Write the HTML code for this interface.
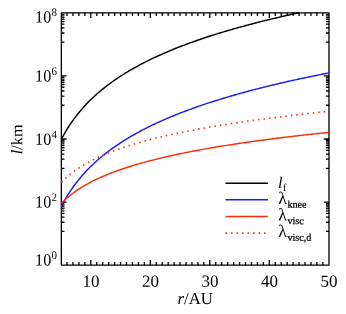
<!DOCTYPE html>
<html><head><meta charset="utf-8"><title>plot</title>
<style>
html,body{margin:0;padding:0;background:#fff;}
body{width:346px;height:314px;overflow:hidden;}
svg{display:block;will-change:transform;text-rendering:geometricPrecision;font-family:"Liberation Serif",serif;}
</style></head><body>
<svg width="346" height="314" viewBox="0 0 346 314">
<rect x="0" y="0" width="346" height="314" fill="#fff"/>
<g fill="none" stroke-linecap="butt" stroke-linejoin="round">
<rect x="61.35" y="12.85" width="267.65" height="252.35" stroke="#000" stroke-width="1.32"/>
<path d="M67.01,265.20 v-3.10 M67.01,12.85 v3.10 M72.96,265.20 v-3.10 M72.96,12.85 v3.10 M78.91,265.20 v-3.10 M78.91,12.85 v3.10 M84.86,265.20 v-3.10 M84.86,12.85 v3.10 M90.81,265.20 v-5.20 M90.81,12.85 v5.20 M96.76,265.20 v-3.10 M96.76,12.85 v3.10 M102.71,265.20 v-3.10 M102.71,12.85 v3.10 M108.66,265.20 v-3.10 M108.66,12.85 v3.10 M114.61,265.20 v-3.10 M114.61,12.85 v3.10 M120.56,265.20 v-3.10 M120.56,12.85 v3.10 M126.51,265.20 v-3.10 M126.51,12.85 v3.10 M132.46,265.20 v-3.10 M132.46,12.85 v3.10 M138.41,265.20 v-3.10 M138.41,12.85 v3.10 M144.36,265.20 v-3.10 M144.36,12.85 v3.10 M150.31,265.20 v-5.20 M150.31,12.85 v5.20 M156.26,265.20 v-3.10 M156.26,12.85 v3.10 M162.21,265.20 v-3.10 M162.21,12.85 v3.10 M168.16,265.20 v-3.10 M168.16,12.85 v3.10 M174.11,265.20 v-3.10 M174.11,12.85 v3.10 M180.06,265.20 v-3.10 M180.06,12.85 v3.10 M186.01,265.20 v-3.10 M186.01,12.85 v3.10 M191.96,265.20 v-3.10 M191.96,12.85 v3.10 M197.91,265.20 v-3.10 M197.91,12.85 v3.10 M203.86,265.20 v-3.10 M203.86,12.85 v3.10 M209.81,265.20 v-5.20 M209.81,12.85 v5.20 M215.76,265.20 v-3.10 M215.76,12.85 v3.10 M221.71,265.20 v-3.10 M221.71,12.85 v3.10 M227.66,265.20 v-3.10 M227.66,12.85 v3.10 M233.61,265.20 v-3.10 M233.61,12.85 v3.10 M239.56,265.20 v-3.10 M239.56,12.85 v3.10 M245.51,265.20 v-3.10 M245.51,12.85 v3.10 M251.46,265.20 v-3.10 M251.46,12.85 v3.10 M257.41,265.20 v-3.10 M257.41,12.85 v3.10 M263.36,265.20 v-3.10 M263.36,12.85 v3.10 M269.31,265.20 v-5.20 M269.31,12.85 v5.20 M275.26,265.20 v-3.10 M275.26,12.85 v3.10 M281.21,265.20 v-3.10 M281.21,12.85 v3.10 M287.16,265.20 v-3.10 M287.16,12.85 v3.10 M293.11,265.20 v-3.10 M293.11,12.85 v3.10 M299.06,265.20 v-3.10 M299.06,12.85 v3.10 M305.01,265.20 v-3.10 M305.01,12.85 v3.10 M310.96,265.20 v-3.10 M310.96,12.85 v3.10 M316.91,265.20 v-3.10 M316.91,12.85 v3.10 M322.86,265.20 v-3.10 M322.86,12.85 v3.10 M61.35,202.11 h5.2 M329.00,202.11 h-5.2 M61.35,203.61 h3.1 M329.00,203.61 h-3.1 M61.35,205.21 h3.1 M329.00,205.21 h-3.1 M61.35,206.91 h3.1 M329.00,206.91 h-3.1 M61.35,208.71 h3.1 M329.00,208.71 h-3.1 M61.35,210.86 h3.1 M329.00,210.86 h-3.1 M61.35,213.41 h3.1 M329.00,213.41 h-3.1 M61.35,217.16 h3.1 M329.00,217.16 h-3.1 M61.35,222.26 h3.1 M329.00,222.26 h-3.1 M61.35,231.41 h3.1 M329.00,231.41 h-3.1 M61.35,139.02 h5.2 M329.00,139.02 h-5.2 M61.35,140.52 h3.1 M329.00,140.52 h-3.1 M61.35,142.12 h3.1 M329.00,142.12 h-3.1 M61.35,143.82 h3.1 M329.00,143.82 h-3.1 M61.35,145.62 h3.1 M329.00,145.62 h-3.1 M61.35,147.77 h3.1 M329.00,147.77 h-3.1 M61.35,150.32 h3.1 M329.00,150.32 h-3.1 M61.35,154.07 h3.1 M329.00,154.07 h-3.1 M61.35,159.17 h3.1 M329.00,159.17 h-3.1 M61.35,168.32 h3.1 M329.00,168.32 h-3.1 M61.35,75.94 h5.2 M329.00,75.94 h-5.2 M61.35,77.44 h3.1 M329.00,77.44 h-3.1 M61.35,79.04 h3.1 M329.00,79.04 h-3.1 M61.35,80.74 h3.1 M329.00,80.74 h-3.1 M61.35,82.54 h3.1 M329.00,82.54 h-3.1 M61.35,84.69 h3.1 M329.00,84.69 h-3.1 M61.35,87.24 h3.1 M329.00,87.24 h-3.1 M61.35,90.99 h3.1 M329.00,90.99 h-3.1 M61.35,96.09 h3.1 M329.00,96.09 h-3.1 M61.35,105.24 h3.1 M329.00,105.24 h-3.1 M61.35,14.35 h3.1 M329.00,14.35 h-3.1 M61.35,15.95 h3.1 M329.00,15.95 h-3.1 M61.35,17.65 h3.1 M329.00,17.65 h-3.1 M61.35,19.45 h3.1 M329.00,19.45 h-3.1 M61.35,21.60 h3.1 M329.00,21.60 h-3.1 M61.35,24.15 h3.1 M329.00,24.15 h-3.1 M61.35,27.90 h3.1 M329.00,27.90 h-3.1 M61.35,33.00 h3.1 M329.00,33.00 h-3.1 M61.35,42.15 h3.1 M329.00,42.15 h-3.1" stroke="#000" stroke-width="1.3"/>
<path d="M61.40,139.25 L62.89,136.44 L64.38,133.76 L65.86,131.20 L67.35,128.75 L68.84,126.39 L70.33,124.14 L71.81,121.96 L73.30,119.87 L74.79,117.84 L76.28,115.89 L77.77,114.00 L79.25,112.17 L80.74,110.40 L82.23,108.68 L83.72,107.01 L85.20,105.39 L86.69,103.81 L88.18,102.27 L89.67,100.78 L91.16,99.32 L92.64,97.90 L94.13,96.51 L95.62,95.15 L97.11,93.83 L98.59,92.54 L100.08,91.27 L101.57,90.03 L103.06,88.82 L104.54,87.63 L106.03,86.47 L107.52,85.32 L109.01,84.21 L110.50,83.11 L111.98,82.03 L113.47,80.98 L114.96,79.94 L116.45,78.92 L117.93,77.92 L119.42,76.93 L120.91,75.96 L122.40,75.01 L123.89,74.07 L125.37,73.15 L126.86,72.25 L128.35,71.35 L129.84,70.47 L131.32,69.61 L132.81,68.75 L134.30,67.91 L135.79,67.08 L137.28,66.27 L138.76,65.46 L140.25,64.67 L141.74,63.88 L143.23,63.11 L144.71,62.35 L146.20,61.59 L147.69,60.85 L149.18,60.12 L150.66,59.39 L152.15,58.68 L153.64,57.97 L155.13,57.27 L156.62,56.58 L158.10,55.90 L159.59,55.23 L161.08,54.56 L162.57,53.90 L164.05,53.25 L165.54,52.61 L167.03,51.97 L168.52,51.34 L170.01,50.72 L171.49,50.10 L172.98,49.49 L174.47,48.89 L175.96,48.29 L177.44,47.70 L178.93,47.12 L180.42,46.54 L181.91,45.96 L183.40,45.40 L184.88,44.83 L186.37,44.28 L187.86,43.73 L189.35,43.18 L190.83,42.64 L192.32,42.10 L193.81,41.57 L195.30,41.05 L196.79,40.53 L198.27,40.01 L199.76,39.50 L201.25,38.99 L202.74,38.49 L204.22,37.99 L205.71,37.49 L207.20,37.00 L208.69,36.52 L210.17,36.03 L211.66,35.56 L213.15,35.08 L214.64,34.61 L216.13,34.15 L217.61,33.68 L219.10,33.22 L220.59,32.77 L222.08,32.32 L223.56,31.87 L225.05,31.42 L226.54,30.98 L228.03,30.54 L229.52,30.11 L231.00,29.68 L232.49,29.25 L233.98,28.82 L235.47,28.40 L236.95,27.98 L238.44,27.57 L239.93,27.15 L241.42,26.74 L242.91,26.34 L244.39,25.93 L245.88,25.53 L247.37,25.13 L248.86,24.74 L250.34,24.34 L251.83,23.95 L253.32,23.57 L254.81,23.18 L256.30,22.80 L257.78,22.42 L259.27,22.04 L260.76,21.66 L262.25,21.29 L263.73,20.92 L265.22,20.55 L266.71,20.19 L268.20,19.82 L269.69,19.46 L271.17,19.10 L272.66,18.75 L274.15,18.39 L275.64,18.04 L277.12,17.69 L278.61,17.34 L280.10,17.00 L281.59,16.65 L283.07,16.31 L284.56,15.97 L286.05,15.63 L287.54,15.30 L289.03,14.96 L290.51,14.63 L292.00,14.30 L293.49,13.97 L294.98,13.65 L296.46,13.32 L297.95,13.00 L299.09,12.75" stroke="#000" stroke-width="1.45"/>
<path d="M61.40,206.26 L62.89,203.43 L64.38,200.74 L65.86,198.16 L67.35,195.70 L68.84,193.33 L70.33,191.06 L71.81,188.87 L73.30,186.76 L74.79,184.73 L76.28,182.77 L77.77,180.87 L79.25,179.03 L80.74,177.24 L82.23,175.51 L83.72,173.83 L85.20,172.20 L86.69,170.61 L88.18,169.07 L89.67,167.56 L91.16,166.10 L92.64,164.67 L94.13,163.27 L95.62,161.91 L97.11,160.57 L98.59,159.27 L100.08,158.00 L101.57,156.75 L103.06,155.53 L104.54,154.34 L106.03,153.17 L107.52,152.02 L109.01,150.89 L110.50,149.79 L111.98,148.71 L113.47,147.64 L114.96,146.60 L116.45,145.57 L117.93,144.57 L119.42,143.57 L120.91,142.60 L122.40,141.64 L123.89,140.70 L125.37,139.77 L126.86,138.86 L128.35,137.96 L129.84,137.08 L131.32,136.21 L132.81,135.35 L134.30,134.50 L135.79,133.67 L137.28,132.85 L138.76,132.04 L140.25,131.24 L141.74,130.45 L143.23,129.67 L144.71,128.90 L146.20,128.15 L147.69,127.40 L149.18,126.66 L150.66,125.93 L152.15,125.21 L153.64,124.50 L155.13,123.80 L156.62,123.10 L158.10,122.42 L159.59,121.74 L161.08,121.07 L162.57,120.41 L164.05,119.75 L165.54,119.11 L167.03,118.46 L168.52,117.83 L170.01,117.20 L171.49,116.59 L172.98,115.97 L174.47,115.37 L175.96,114.76 L177.44,114.17 L178.93,113.58 L180.42,113.00 L181.91,112.42 L183.40,111.85 L184.88,111.29 L186.37,110.73 L187.86,110.17 L189.35,109.62 L190.83,109.08 L192.32,108.54 L193.81,108.01 L195.30,107.48 L196.79,106.95 L198.27,106.43 L199.76,105.92 L201.25,105.41 L202.74,104.90 L204.22,104.40 L205.71,103.90 L207.20,103.41 L208.69,102.92 L210.17,102.43 L211.66,101.95 L213.15,101.48 L214.64,101.00 L216.13,100.53 L217.61,100.07 L219.10,99.61 L220.59,99.15 L222.08,98.69 L223.56,98.24 L225.05,97.80 L226.54,97.35 L228.03,96.91 L229.52,96.47 L231.00,96.04 L232.49,95.61 L233.98,95.18 L235.47,94.76 L236.95,94.34 L238.44,93.92 L239.93,93.50 L241.42,93.09 L242.91,92.68 L244.39,92.27 L245.88,91.87 L247.37,91.47 L248.86,91.07 L250.34,90.67 L251.83,90.28 L253.32,89.89 L254.81,89.50 L256.30,89.12 L257.78,88.74 L259.27,88.36 L260.76,87.98 L262.25,87.60 L263.73,87.23 L265.22,86.86 L266.71,86.49 L268.20,86.13 L269.69,85.76 L271.17,85.40 L272.66,85.04 L274.15,84.69 L275.64,84.33 L277.12,83.98 L278.61,83.63 L280.10,83.28 L281.59,82.94 L283.07,82.59 L284.56,82.25 L286.05,81.91 L287.54,81.57 L289.03,81.24 L290.51,80.90 L292.00,80.57 L293.49,80.24 L294.98,79.91 L296.46,79.59 L297.95,79.26 L299.44,78.94 L300.93,78.62 L302.42,78.30 L303.90,77.98 L305.39,77.67 L306.88,77.35 L308.37,77.04 L309.85,76.73 L311.34,76.42 L312.83,76.11 L314.32,75.81 L315.81,75.50 L317.29,75.20 L318.78,74.90 L320.27,74.60 L321.76,74.30 L323.24,74.00 L324.73,73.71 L326.22,73.42 L327.71,73.12 L329.19,72.83" stroke="#1a1aff" stroke-width="1.45"/>
<path d="M61.40,203.36 L62.89,201.86 L64.38,200.42 L65.86,199.05 L67.35,197.74 L68.84,196.48 L70.33,195.27 L71.81,194.10 L73.30,192.98 L74.79,191.90 L76.28,190.85 L77.77,189.84 L79.25,188.86 L80.74,187.91 L82.23,186.99 L83.72,186.10 L85.20,185.23 L86.69,184.38 L88.18,183.56 L89.67,182.76 L91.16,181.98 L92.64,181.21 L94.13,180.47 L95.62,179.74 L97.11,179.04 L98.59,178.34 L100.08,177.66 L101.57,177.00 L103.06,176.35 L104.54,175.71 L106.03,175.09 L107.52,174.48 L109.01,173.88 L110.50,173.29 L111.98,172.72 L113.47,172.15 L114.96,171.59 L116.45,171.05 L117.93,170.51 L119.42,169.98 L120.91,169.47 L122.40,168.96 L123.89,168.45 L125.37,167.96 L126.86,167.47 L128.35,167.00 L129.84,166.52 L131.32,166.06 L132.81,165.60 L134.30,165.15 L135.79,164.71 L137.28,164.27 L138.76,163.84 L140.25,163.41 L141.74,162.99 L143.23,162.58 L144.71,162.17 L146.20,161.77 L147.69,161.37 L149.18,160.98 L150.66,160.59 L152.15,160.21 L153.64,159.83 L155.13,159.45 L156.62,159.08 L158.10,158.72 L159.59,158.36 L161.08,158.00 L162.57,157.65 L164.05,157.30 L165.54,156.96 L167.03,156.61 L168.52,156.28 L170.01,155.94 L171.49,155.61 L172.98,155.29 L174.47,154.96 L175.96,154.64 L177.44,154.33 L178.93,154.01 L180.42,153.70 L181.91,153.40 L183.40,153.09 L184.88,152.79 L186.37,152.49 L187.86,152.20 L189.35,151.91 L190.83,151.62 L192.32,151.33 L193.81,151.05 L195.30,150.76 L196.79,150.48 L198.27,150.21 L199.76,149.93 L201.25,149.66 L202.74,149.39 L204.22,149.12 L205.71,148.86 L207.20,148.60 L208.69,148.34 L210.17,148.08 L211.66,147.82 L213.15,147.57 L214.64,147.32 L216.13,147.07 L217.61,146.82 L219.10,146.57 L220.59,146.33 L222.08,146.09 L223.56,145.85 L225.05,145.61 L226.54,145.37 L228.03,145.14 L229.52,144.91 L231.00,144.67 L232.49,144.44 L233.98,144.22 L235.47,143.99 L236.95,143.77 L238.44,143.54 L239.93,143.32 L241.42,143.10 L242.91,142.88 L244.39,142.67 L245.88,142.45 L247.37,142.24 L248.86,142.03 L250.34,141.82 L251.83,141.61 L253.32,141.40 L254.81,141.19 L256.30,140.99 L257.78,140.78 L259.27,140.58 L260.76,140.38 L262.25,140.18 L263.73,139.98 L265.22,139.79 L266.71,139.59 L268.20,139.40 L269.69,139.20 L271.17,139.01 L272.66,138.82 L274.15,138.63 L275.64,138.44 L277.12,138.25 L278.61,138.07 L280.10,137.88 L281.59,137.70 L283.07,137.51 L284.56,137.33 L286.05,137.15 L287.54,136.97 L289.03,136.79 L290.51,136.61 L292.00,136.44 L293.49,136.26 L294.98,136.09 L296.46,135.91 L297.95,135.74 L299.44,135.57 L300.93,135.40 L302.42,135.23 L303.90,135.06 L305.39,134.89 L306.88,134.72 L308.37,134.56 L309.85,134.39 L311.34,134.23 L312.83,134.06 L314.32,133.90 L315.81,133.74 L317.29,133.58 L318.78,133.42 L320.27,133.26 L321.76,133.10 L323.24,132.94 L324.73,132.78 L326.22,132.63 L327.71,132.47 L329.19,132.32" stroke="#ff2a0a" stroke-width="1.45"/>
<path d="M61.40,182.19 L62.89,180.69 L64.38,179.26 L65.86,177.89 L67.35,176.58 L68.84,175.32 L70.33,174.11 L71.81,172.95 L73.30,171.83 L74.79,170.75 L76.28,169.71 L77.77,168.70 L79.25,167.72 L80.74,166.77 L82.23,165.86 L83.72,164.96 L85.20,164.10 L86.69,163.25 L88.18,162.43 L89.67,161.63 L91.16,160.85 L92.64,160.09 L94.13,159.35 L95.62,158.63 L97.11,157.92 L98.59,157.23 L100.08,156.55 L101.57,155.89 L103.06,155.24 L104.54,154.60 L106.03,153.98 L107.52,153.37 L109.01,152.77 L110.50,152.19 L111.98,151.61 L113.47,151.05 L114.96,150.49 L116.45,149.95 L117.93,149.41 L119.42,148.89 L120.91,148.37 L122.40,147.86 L123.89,147.36 L125.37,146.87 L126.86,146.38 L128.35,145.90 L129.84,145.43 L131.32,144.97 L132.81,144.52 L134.30,144.07 L135.79,143.62 L137.28,143.19 L138.76,142.76 L140.25,142.33 L141.74,141.91 L143.23,141.50 L144.71,141.09 L146.20,140.69 L147.69,140.29 L149.18,139.90 L150.66,139.51 L152.15,139.13 L153.64,138.75 L155.13,138.38 L156.62,138.01 L158.10,137.65 L159.59,137.29 L161.08,136.93 L162.57,136.58 L164.05,136.23 L165.54,135.89 L167.03,135.55 L168.52,135.21 L170.01,134.88 L171.49,134.55 L172.98,134.22 L174.47,133.90 L175.96,133.58 L177.44,133.26 L178.93,132.95 L180.42,132.64 L181.91,132.34 L183.40,132.03 L184.88,131.73 L186.37,131.43 L187.86,131.14 L189.35,130.85 L190.83,130.56 L192.32,130.27 L193.81,129.99 L195.30,129.71 L196.79,129.43 L198.27,129.15 L199.76,128.88 L201.25,128.61 L202.74,128.34 L204.22,128.07 L205.71,127.81 L207.20,127.55 L208.69,127.29 L210.17,127.03 L211.66,126.77 L213.15,126.52 L214.64,126.27 L216.13,126.02 L217.61,125.77 L219.10,125.53 L220.59,125.28 L222.08,125.04 L223.56,124.80 L225.05,124.57 L226.54,124.33 L228.03,124.10 L229.52,123.86 L231.00,123.63 L232.49,123.40 L233.98,123.18 L235.47,122.95 L236.95,122.73 L238.44,122.50 L239.93,122.28 L241.42,122.06 L242.91,121.85 L244.39,121.63 L245.88,121.42 L247.37,121.20 L248.86,120.99 L250.34,120.78 L251.83,120.57 L253.32,120.37 L254.81,120.16 L256.30,119.95 L257.78,119.75 L259.27,119.55 L260.76,119.35 L262.25,119.15 L263.73,118.95 L265.22,118.76 L266.71,118.56 L268.20,118.37 L269.69,118.17 L271.17,117.98 L272.66,117.79 L274.15,117.60 L275.64,117.41 L277.12,117.23 L278.61,117.04 L280.10,116.85 L281.59,116.67 L283.07,116.49 L284.56,116.31 L286.05,116.13 L287.54,115.95 L289.03,115.77 L290.51,115.59 L292.00,115.41 L293.49,115.24 L294.98,115.06 L296.46,114.89 L297.95,114.72 L299.44,114.55 L300.93,114.38 L302.42,114.21 L303.90,114.04 L305.39,113.87 L306.88,113.70 L308.37,113.54 L309.85,113.37 L311.34,113.21 L312.83,113.04 L314.32,112.88 L315.81,112.72 L317.29,112.56 L318.78,112.40 L320.27,112.24 L321.76,112.08 L323.24,111.92 L324.73,111.77 L326.22,111.61 L327.71,111.46 L329.19,111.30" stroke="#ff2a0a" stroke-width="1.6" stroke-dasharray="1.5 4.01" />
<path d="M225.5,183.2 H267.9" stroke="#000" stroke-width="1.35"/>
<path d="M225.5,199.75 H267.9" stroke="#1a1aff" stroke-width="1.35"/>
<path d="M225.5,216.45 H267.9" stroke="#ff2a0a" stroke-width="1.35"/>
<path d="M225.5,233.1 H267.9" stroke="#ff2a0a" stroke-width="1.6" stroke-dasharray="1.5 4.01"/>
</g>
<g fill="#000" stroke="#000" stroke-width="0" stroke-linejoin="round">
<text transform="translate(35.1,22.50) rotate(0.05) scale(0.945,1)" font-size="17">10</text><text transform="translate(51.45,16.00) rotate(0.05) scale(0.95,1)" font-size="11.5">8</text>
<text transform="translate(35.1,81.50) rotate(0.05) scale(0.945,1)" font-size="17">10</text><text transform="translate(51.45,75.00) rotate(0.05) scale(0.95,1)" font-size="11.5">6</text>
<text transform="translate(35.1,144.70) rotate(0.05) scale(0.945,1)" font-size="17">10</text><text transform="translate(51.45,138.20) rotate(0.05) scale(0.95,1)" font-size="11.5">4</text>
<text transform="translate(35.1,207.60) rotate(0.05) scale(0.945,1)" font-size="17">10</text><text transform="translate(51.45,201.10) rotate(0.05) scale(0.95,1)" font-size="11.5">2</text>
<text transform="translate(35.1,265.50) rotate(0.05) scale(0.945,1)" font-size="17">10</text><text transform="translate(51.45,259.00) rotate(0.05) scale(0.95,1)" font-size="11.5">0</text>
<text transform="translate(91.11,286.65) rotate(0.05)" font-size="17" text-anchor="middle">10</text>
<text transform="translate(150.61,286.65) rotate(0.05)" font-size="17" text-anchor="middle">20</text>
<text transform="translate(210.11,286.65) rotate(0.05)" font-size="17" text-anchor="middle">30</text>
<text transform="translate(269.61,286.65) rotate(0.05)" font-size="17" text-anchor="middle">40</text>
<text transform="translate(329.11,286.65) rotate(0.05)" font-size="17" text-anchor="middle">50</text>
<text transform="translate(195.25,304.0) rotate(0.05)" font-size="16.8" text-anchor="middle"><tspan font-style="italic">r</tspan>/AU</text>
<text transform="translate(22.25,139.3) rotate(-89.95)" font-size="16.2" text-anchor="middle"><tspan font-style="italic">l</tspan>/km</text>
<text transform="translate(278.00,188.00) rotate(0.05)" font-size="16.2"><tspan font-style="italic">l</tspan><tspan font-size="10.5" dy="3.1" dx="0.5" stroke-width="0">f</tspan></text>
<text transform="translate(278.20,204.10) rotate(0.05)" font-size="17.8"><tspan>λ</tspan><tspan font-size="10.2" dy="3.6" dx="0.6" stroke-width="0.25">knee</tspan></text>
<text transform="translate(278.20,220.50) rotate(0.05)" font-size="17.8"><tspan>λ</tspan><tspan font-size="10.2" dy="3.6" dx="0.6" stroke-width="0.25">visc</tspan></text>
<text transform="translate(278.20,237.10) rotate(0.05)" font-size="17.8"><tspan>λ</tspan><tspan font-size="10.2" dy="3.6" dx="0.6" stroke-width="0.25">visc,d</tspan></text>
</g>
</svg>
</body></html>
